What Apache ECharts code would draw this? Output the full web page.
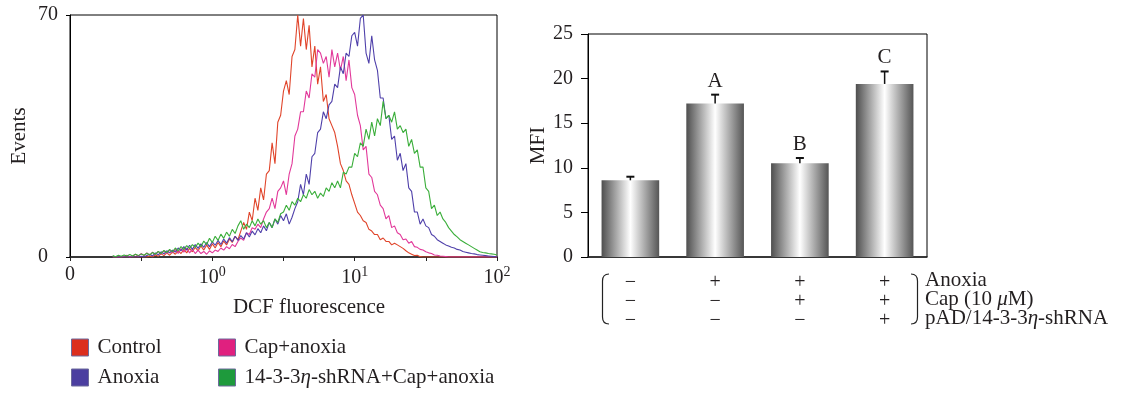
<!DOCTYPE html>
<html>
<head>
<meta charset="utf-8">
<script src="https://cdn.jsdelivr.net/npm/echarts@6/dist/echarts.min.js"></script>
<style>
  html, body { margin: 0; padding: 0; background: #ffffff; }
  #chart { width: 1121px; height: 394px; }
</style>
</head>
<body>
<div id="chart"></div>
<script>
// ---------- Histogram data (x = log10 of DCF fluorescence; the "0" tick sits at -1) ----------
const logFluor = [
  -0.70,-0.68,-0.66,-0.64,-0.62,-0.60,-0.58,-0.56,-0.54,-0.52,
  -0.50,-0.48,-0.46,-0.44,-0.42,-0.40,-0.38,-0.36,-0.34,-0.32,
  -0.30,-0.28,-0.26,-0.24,-0.22,-0.20,-0.18,-0.16,-0.14,-0.12,
  -0.10,-0.08,-0.06,-0.04,-0.02,0.00,0.02,0.04,0.06,0.08,
  0.10,0.12,0.14,0.16,0.18,0.20,0.22,0.24,0.26,0.28,
  0.30,0.32,0.34,0.36,0.38,0.40,0.42,0.44,0.46,0.48,
  0.50,0.52,0.54,0.56,0.58,0.60,0.62,0.64,0.66,0.68,
  0.70,0.72,0.74,0.76,0.78,0.80,0.82,0.84,0.86,0.88,
  0.90,0.92,0.94,0.96,0.98,1.00,1.02,1.04,1.06,1.08,
  1.10,1.12,1.14,1.16,1.18,1.20,1.22,1.24,1.26,1.28,
  1.30,1.32,1.34,1.36,1.38,1.40,1.42,1.44,1.46,1.48,
  1.50,1.52,1.54,1.56,1.58,1.60,1.62,1.64,1.66,1.68,
  1.70,1.72,1.74,1.76,1.78,1.80,1.82,1.84,1.86,1.88,
  1.90,1.92,1.94,1.96,1.98,2.00];

const controlEvents = [
  0,0,0,0,0,0,0,0,0,0,
  0,0,0,0.3,0,0.6,0.2,0.9,0.4,1.2,
  0.5,1.5,0.8,1.8,1.0,2.2,1.2,2.5,1.5,2.8,
  1.8,3.2,2.0,3.5,2.2,3.8,2.6,4.2,3.0,4.6,
  3.5,5.2,4.2,6.0,5.0,7.5,10,8,13,10.5,
  17,13.5,20,16.5,24,25,33,27,39,41,
  48,51,47,58,60,70,61,69,60,67,
  55,61,50,55,45,47,40,38,36,32,
  27,25,22,21,18,15.5,13,12,10.5,10,
  8,7.5,6.5,6.5,5,5.5,4.5,4.5,3.5,4,
  3.5,3,2.5,1.8,1.2,0.8,0.4,0.5,0.1,0,
  0,0,0,0,0,0,0,0,0,0,
  0,0,0,0,0,0,0,0,0,0,
  0,0,0,0,0,0];

const capAnoxiaEvents = [
  0,0,0,0,0.2,0.5,0,0.3,0.8,0.2,
  1,0.4,1.2,0.5,1.4,0.6,1.6,0.8,1.8,1.0,
  2,1.2,2.2,1.0,2.4,1.4,2.6,1.2,2.2,1.0,
  2.0,1.0,1.6,0.8,1.8,1.2,2.0,1.6,2.6,2.0,
  3.0,2.4,3.6,3.0,4.5,5.5,4.8,7,6.5,8.5,
  8,9.5,8.5,11,13,14,17,14,19,20,
  22,18,24,27,35,37,42,42,48,46,
  53,52,60,59,56,58,52,60,55,59,
  54,58,51,57,49,47,41,38,31,32,
  24,23,19,18,15,14,11,12,8.5,9,
  7,6.5,5,5.2,4,4.5,3,2.8,2.2,2,
  1.5,1.2,1.0,0.6,0.5,0.3,0.2,0.1,0,0,
  0,0,0,0,0,0,0,0,0,0,
  0,0,0,0,0,0];

const anoxiaEvents = [
  0,0,0,0,0,0,0,0,0,0,
  0.2,0,0.4,0.8,0.3,1.2,0.6,1.5,0.9,1.8,
  1.2,2.0,1.4,2.6,1.8,3.0,2.0,3.4,2.2,3.6,
  2.5,3.8,2.8,4.2,3.0,4.4,3.4,4.8,3.6,5.2,
  4.0,5.6,4.4,6.0,4.8,6.2,5.2,7.0,5.8,7.5,
  6.4,8.2,7.0,9.0,7.6,10,8.5,11,9.5,12,
  10.5,12.5,9.5,11.5,14,16,21,18,24,21,
  29,30,36,37,42,40,44,45,50,49,
  55,53,59,58,64,65,61,69,70,59,
  56,64,57,54,46,46,40,41,34,35,
  28,30,25,27,20,19,13,13,9.5,11,
  9,8.5,6.5,6,5,4.5,4,3.5,3.2,2.8,
  2.6,2.2,2,1.6,1.4,1.2,1,0.9,0.7,0.6,
  0.5,0.4,0.3,0.2,0.1,0];

const shRnaEvents = [
  0.4,0.1,0.5,0.2,0.6,0.3,0.7,0.3,0.8,0.4,
  0.9,0.5,1.1,0.6,1.3,0.8,1.6,1.0,1.9,1.3,
  2.2,1.5,2.6,1.8,3.0,2.2,3.3,2.5,3.6,2.8,
  4.0,3.0,4.6,3.6,5.4,4.2,6.0,4.8,6.6,5.4,
  7.2,6.0,8.0,6.8,9.0,10.5,8,9.5,8.5,10.5,
  9,11,9.5,10.5,8.5,10,8.5,11,10,12.5,
  13,15,13.5,16,15,17,16,18,17,19.5,
  18,19,17,18.5,17.5,20,19,21.5,20,22,
  20,24.5,24,26,26,30,29,33,32,37,
  34,39,35,40,38,45,40,41,39,42,
  37,38,36,37,32,34,30,31,26,26,
  20,19,14,15,12,13,11,10,8.5,7.5,
  6.5,5.8,5,4.5,4,3.5,3,2.5,2,1.5,
  1.3,1.2,1,0.9,0.8,0.6];

const histNames = ['Control', 'Anoxia', 'Cap+anoxia', '14-3-3η-shRNA+Cap+anoxia'];
const lineColors = ['#e0442a', '#4f40aa', '#e2399a', '#3aae3a'];
const legendColors = ['#dc2e1e', '#4b3ea0', '#e0207f', '#1e9a3c'];

// ---------- Bar chart data ----------
const anoxiaRow = ['−', '+', '+', '+'];
const capRow    = ['−', '−', '+', '+'];
const shRnaRow  = ['−', '−', '−', '+'];
const mfiValues = [8.6, 17.2, 10.5, 19.4];
const mfiErrTop = [9.0, 18.2, 11.1, 20.8];
const sigLetters = ['', 'A', 'B', 'C'];
const rowLabels = ['Anoxia', 'Cap (10 μM)', 'pAD/14-3-3η-shRNA'];

const xTickValues = [-1, 0, 1, 2];
const xTickTexts = ['0', '10{s|0}', '10{s|1}', '10{s|2}'];

// ---------- Build ----------
const FONT = '"Liberation Serif", "Times New Roman", serif';
const TXT = '#231f20';
const LBL = 21;

function pairs(ys) { return logFluor.map((x, i) => [x, ys[i]]); }
const histData = [controlEvents, anoxiaEvents, capAnoxiaEvents, shRnaEvents];
const drawOrder = [0, 2, 1, 3];

const italicize = s => s.replace(/([μη])/g, '{i|$1}');

const barCategories = anoxiaRow.map((a, i) => a + '\n' + capRow[i] + '\n' + shRnaRow[i]);

const chart = echarts.init(document.getElementById('chart'), null, { renderer: 'canvas' });

function legendAt(k, left, top) {
  return {
    orient: 'horizontal', left: left, top: top, itemWidth: 17, itemHeight: 17, itemGap: 10,
    padding: 0, icon: 'rect',
    data: [{ name: histNames[k], itemStyle: { color: legendColors[k] } }],
    itemStyle: { borderColor: '#6d6a9c', borderWidth: 1 },
    formatter: italicize,
    textStyle: { fontFamily: FONT, fontSize: LBL, color: TXT, padding: [0, 0, 0, 4],
      rich: { i: { fontFamily: FONT, fontSize: LBL, fontStyle: 'italic', color: TXT } } }
  };
}

const option = {
  animation: false,
  backgroundColor: '#ffffff',
  textStyle: { fontFamily: FONT, color: TXT },
  grid: [
    { left: 70, top: 15, width: 427, height: 242, show: true, borderColor: '#000', borderWidth: 1, backgroundColor: 'transparent' },
    { left: 588, top: 34, width: 339, height: 223, show: true, borderColor: '#000', borderWidth: 1, backgroundColor: 'transparent' }
  ],
  xAxis: [
    {
      gridIndex: 0, type: 'value', min: -1, max: 2, interval: 0.5,
      name: 'DCF fluorescence', nameLocation: 'middle', nameGap: 40,
      nameTextStyle: { fontFamily: FONT, fontSize: LBL, color: TXT, padding: [0, 0, 0, 51] },
      axisLine: { onZero: false, lineStyle: { color: '#222', width: 1.5 } },
      axisTick: { show: true, length: 4, inside: false, lineStyle: { color: '#222' } },
      splitLine: { show: false },
      axisLabel: {
        margin: 8, fontFamily: FONT, fontSize: 20, color: TXT,
        formatter: v => { const k = xTickValues.indexOf(Math.round(v * 100) / 100); return k >= 0 ? xTickTexts[k] : ''; },
        rich: { s: { fontFamily: FONT, fontSize: 14, color: TXT, padding: [0, 0, 11, 0] } }
      }
    },
    {
      gridIndex: 1, type: 'category', data: barCategories,
      axisLine: { onZero: false, lineStyle: { color: '#222', width: 1.5 } },
      axisTick: { show: false },
      axisLabel: { interval: 0, margin: 16, fontFamily: FONT, fontSize: 20, lineHeight: 19, color: TXT }
    }
  ],
  yAxis: [
    {
      gridIndex: 0, type: 'value', min: 0, max: 70, interval: 70,
      name: 'Events', nameLocation: 'middle', nameGap: 40,
      nameTextStyle: { fontFamily: FONT, fontSize: LBL, color: TXT },
      axisLine: { show: true, onZero: false, lineStyle: { color: '#000', width: 1 } },
      axisTick: { show: true, length: 4, lineStyle: { color: '#000' } },
      splitLine: { show: false },
      axisLabel: { align: 'left', margin: 32, fontFamily: FONT, fontSize: 20, color: TXT }
    },
    {
      gridIndex: 1, type: 'value', min: 0, max: 25, interval: 5,
      name: 'MFI', nameLocation: 'middle', nameGap: 38,
      nameTextStyle: { fontFamily: FONT, fontSize: LBL, color: TXT },
      axisLine: { show: true, onZero: false, lineStyle: { color: '#000', width: 1 } },
      axisTick: { show: true, length: 7, lineStyle: { color: '#000' } },
      splitLine: { show: false },
      axisLabel: { margin: 15, fontFamily: FONT, fontSize: 20, color: TXT }
    }
  ],
  legend: [
    legendAt(0, 71, 337),
    legendAt(1, 71, 367),
    legendAt(2, 218, 337),
    legendAt(3, 218, 367)
  ],
  series: [],
  graphic: []
};

drawOrder.forEach(k => {
  option.series.push({
    name: histNames[k], type: 'line', xAxisIndex: 0, yAxisIndex: 0,
    data: pairs(histData[k]), showSymbol: false, symbol: 'none',
    color: lineColors[k],
    lineStyle: { width: 1.1, color: lineColors[k] },
    clip: true
  });
});

option.series.push({
  name: 'MFI', type: 'bar', xAxisIndex: 1, yAxisIndex: 1,
  data: mfiValues, barWidth: '68%',
  itemStyle: {
    color: new echarts.graphic.LinearGradient(0, 0, 1, 0, [
      { offset: 0, color: '#4e4e4e' },
      { offset: 0.5, color: '#ffffff' },
      { offset: 1, color: '#555555' }
    ])
  }
});

option.series.push({
  name: 'err', type: 'custom', xAxisIndex: 1, yAxisIndex: 1,
  data: mfiValues.map((v, i) => [i, v, mfiErrTop[i]]),
  z: 5,
  renderItem: (params, api) => {
    const i = api.value(0);
    const base = api.coord([i, api.value(1)]);
    const top = api.coord([i, api.value(2)]);
    const letter = sigLetters[i];
    return {
      type: 'group',
      children: [
        { type: 'line', shape: { x1: base[0], y1: base[1], x2: top[0], y2: top[1] }, style: { stroke: '#111', lineWidth: 1.5 } },
        { type: 'line', shape: { x1: top[0] - 4, y1: top[1], x2: top[0] + 4, y2: top[1] }, style: { stroke: '#111', lineWidth: 2 } },
        { type: 'text', x: top[0], y: top[1] - 3,
          style: { text: letter, font: LBL + 'px ' + FONT, fill: TXT, align: 'center', verticalAlign: 'bottom', textAlign: 'center', textVerticalAlign: 'bottom' } }
      ]
    };
  }
});

// brackets and row labels for the treatment table
option.graphic = [
  { type: 'bezierCurve', shape: { x1: 609, y1: 274, cpx1: 602.5, cpy1: 274, x2: 602.5, y2: 281 }, style: { stroke: '#222', lineWidth: 1.2, fill: null } },
  { type: 'line', shape: { x1: 602.5, y1: 281, x2: 602.5, y2: 317 }, style: { stroke: '#222', lineWidth: 1.2 } },
  { type: 'bezierCurve', shape: { x1: 602.5, y1: 317, cpx1: 602.5, cpy1: 324, x2: 609, y2: 324 }, style: { stroke: '#222', lineWidth: 1.2, fill: null } },
  { type: 'bezierCurve', shape: { x1: 911, y1: 274, cpx1: 917.5, cpy1: 274, x2: 917.5, y2: 281 }, style: { stroke: '#222', lineWidth: 1.2, fill: null } },
  { type: 'line', shape: { x1: 917.5, y1: 281, x2: 917.5, y2: 317 }, style: { stroke: '#222', lineWidth: 1.2 } },
  { type: 'bezierCurve', shape: { x1: 917.5, y1: 317, cpx1: 917.5, cpy1: 324, x2: 911, y2: 324 }, style: { stroke: '#222', lineWidth: 1.2, fill: null } },
  {
    type: 'text', left: 925, top: 270,
    style: {
      text: rowLabels.map(italicize).join('\n'),
      font: LBL + 'px ' + FONT, fill: TXT, lineHeight: 19,
      rich: { i: { fontFamily: FONT, fontSize: LBL, fontStyle: 'italic', fill: TXT, lineHeight: 19 } }
    }
  }
];

chart.setOption(option);
</script>
</body>
</html>
